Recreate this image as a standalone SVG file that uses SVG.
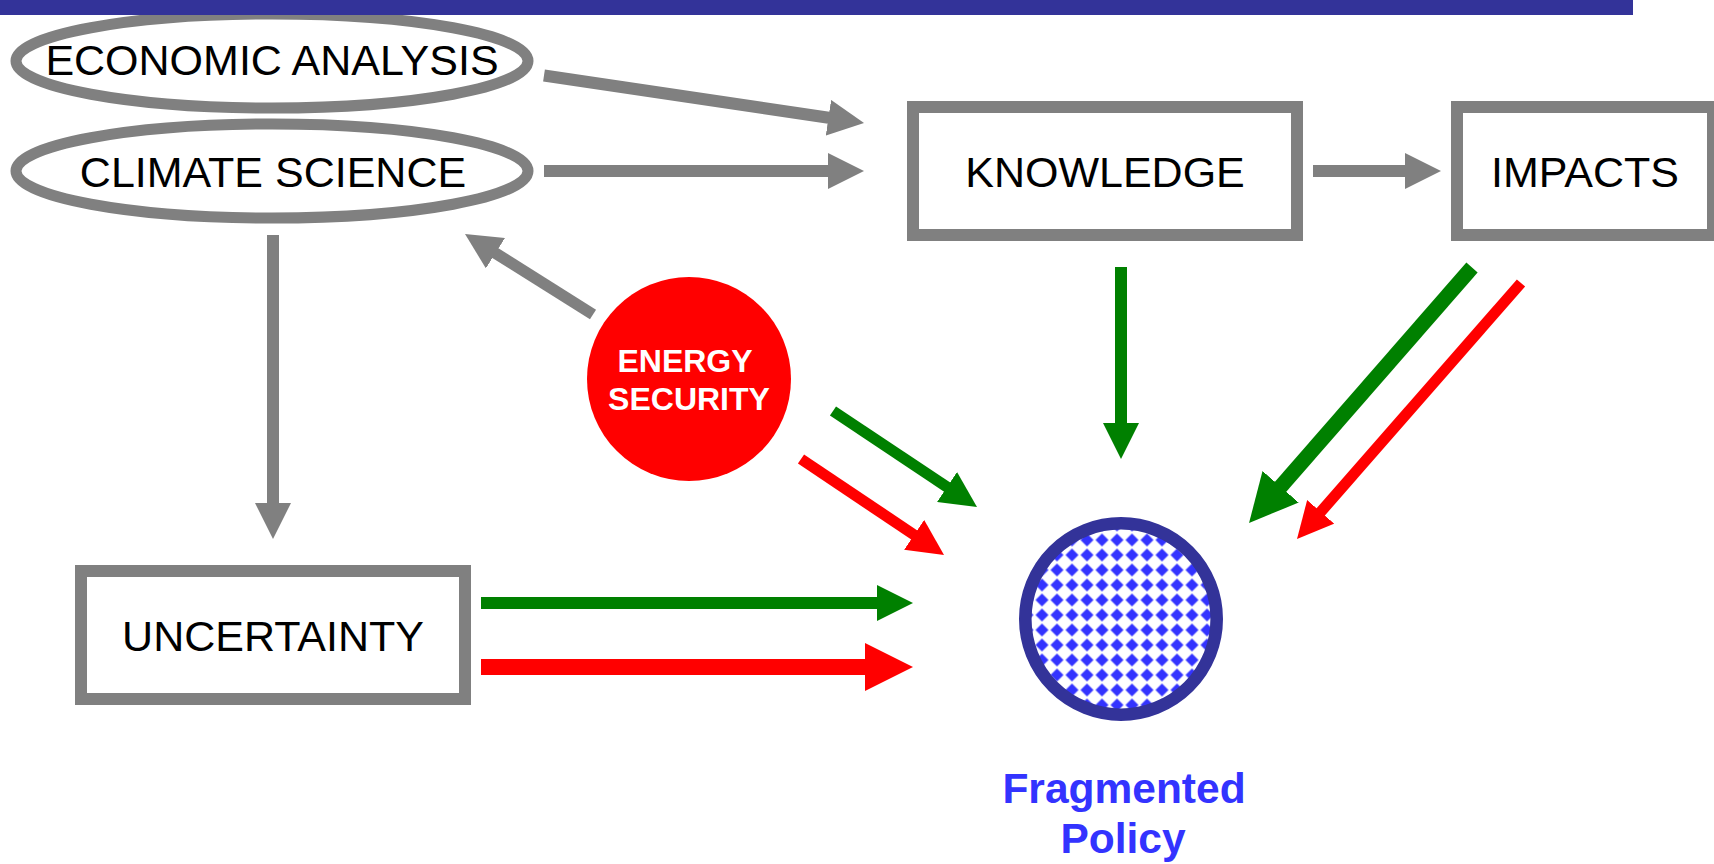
<svg xmlns="http://www.w3.org/2000/svg" width="1714" height="864" viewBox="0 0 1714 864">
<defs>
<style>
.lbl{font-family:"Liberation Sans",Arial,sans-serif;font-size:43px;fill:#000;text-anchor:middle}
.es{font-family:"Liberation Sans",Arial,sans-serif;font-size:32px;font-weight:bold;fill:#fff;text-anchor:middle}
.fp{font-family:"Liberation Sans",Arial,sans-serif;font-size:42.5px;font-weight:bold;fill:#3333ff;text-anchor:middle}
.box{fill:#fff;stroke:#808080;stroke-width:12}
.ell{fill:#fff;stroke:#808080;stroke-width:11}
.g{stroke:#808080;fill:none}
.gr{stroke:#008000;fill:none}
.rd{stroke:#ff0000;fill:none}
</style>
<marker id="mg" markerUnits="userSpaceOnUse" viewBox="0 0 36 36" markerWidth="36" markerHeight="36" refX="2" refY="18" orient="auto"><path d="M0,0 L36,18 L0,36 z" fill="#808080"/></marker>
<marker id="mgr" markerUnits="userSpaceOnUse" viewBox="0 0 36 36" markerWidth="36" markerHeight="36" refX="2" refY="18" orient="auto"><path d="M0,0 L36,18 L0,36 z" fill="#008000"/></marker>
<marker id="mrd" markerUnits="userSpaceOnUse" viewBox="0 0 36 36" markerWidth="36" markerHeight="36" refX="2" refY="18" orient="auto"><path d="M0,0 L36,18 L0,36 z" fill="#ff0000"/></marker>
<marker id="mgrL" markerUnits="userSpaceOnUse" viewBox="0 0 48 48" markerWidth="48" markerHeight="48" refX="2" refY="24" orient="auto"><path d="M0,0 L48,24 L0,48 z" fill="#008000"/></marker>
<marker id="mrdL" markerUnits="userSpaceOnUse" viewBox="0 0 48 48" markerWidth="48" markerHeight="48" refX="2" refY="24" orient="auto"><path d="M0,0 L48,24 L0,48 z" fill="#ff0000"/></marker>
<pattern id="dia" patternUnits="userSpaceOnUse" x="1109.5" y="592.5" width="15" height="15">
<rect width="15" height="15" fill="#fff"/>
<path d="M7.5,1 L14,7.5 L7.5,14 L1,7.5 z" fill="#3333ff"/>
</pattern>
</defs>

<g id="economic-analysis">
<ellipse class="ell" cx="272" cy="61" rx="256" ry="47"/>
<text class="lbl" x="272" y="75">ECONOMIC ANALYSIS</text>
</g>
<g id="climate-science">
<ellipse class="ell" cx="272" cy="171" rx="256" ry="47"/>
<text class="lbl" x="273" y="187">CLIMATE SCIENCE</text>
</g>
<g id="knowledge">
<rect class="box" x="913" y="107" width="384" height="128"/>
<text class="lbl" x="1105" y="187">KNOWLEDGE</text>
</g>
<g id="impacts">
<rect class="box" x="1457" y="107" width="256" height="128"/>
<text class="lbl" x="1585" y="187">IMPACTS</text>
</g>
<g id="uncertainty">
<rect class="box" x="81" y="571" width="384" height="128"/>
<text class="lbl" x="273" y="651">UNCERTAINTY</text>
</g>
<g id="energy-security">
<circle cx="689" cy="379" r="102" fill="#ff0000"/>
<text class="es" x="685" y="372">ENERGY</text>
<text class="es" x="689" y="410">SECURITY</text>
</g>
<g id="fragmented-policy">
<circle cx="1121" cy="619" r="95.7" fill="url(#dia)" stroke="#333399" stroke-width="12.6"/>
<text class="fp" x="1124" y="803">Fragmented</text>
<text class="fp" x="1123" y="853">Policy</text>
</g>

<g id="connectors">
<line class="g" stroke-width="12" x1="544" y1="75.5" x2="830.4" y2="118" marker-end="url(#mg)"/>
<line class="g" stroke-width="12" x1="544" y1="171" x2="830" y2="171" marker-end="url(#mg)"/>
<line class="g" stroke-width="12" x1="1313" y1="171" x2="1407" y2="171" marker-end="url(#mg)"/>
<line class="g" stroke-width="12" x1="273" y1="235" x2="273" y2="505" marker-end="url(#mg)"/>
<line class="g" stroke-width="11.5" x1="593" y1="314.5" x2="493.8" y2="252.1" marker-end="url(#mg)"/>
<line class="gr" stroke-width="11" x1="833" y1="411" x2="948.7" y2="488.1" marker-end="url(#mgr)"/>
<line class="rd" stroke-width="11" x1="801" y1="459" x2="915.8" y2="536" marker-end="url(#mrd)"/>
<line class="gr" stroke-width="12" x1="1121" y1="267" x2="1121" y2="425" marker-end="url(#mgr)"/>
<line class="gr" stroke-width="15" x1="1472" y1="267.5" x2="1279.3" y2="488.3" marker-end="url(#mgrL)"/>
<line class="rd" stroke-width="11" x1="1521" y1="283" x2="1319.4" y2="513.4" marker-end="url(#mrd)"/>
<line class="gr" stroke-width="12" x1="481" y1="603" x2="879" y2="603" marker-end="url(#mgr)"/>
<line class="rd" stroke-width="16" x1="481" y1="667" x2="867" y2="667" marker-end="url(#mrdL)"/>
</g>

<rect id="title-bar" x="0" y="0" width="1633" height="15" fill="#333399"/>
</svg>
